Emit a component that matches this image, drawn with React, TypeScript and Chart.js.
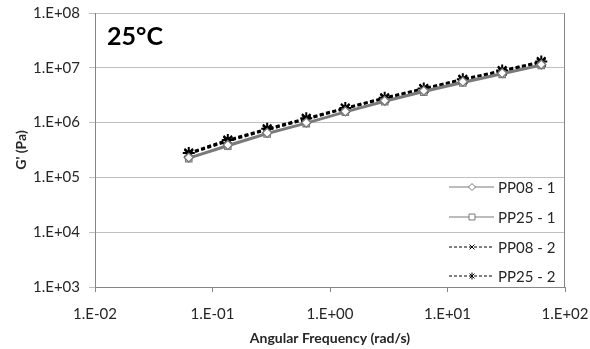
import React, { useEffect, useRef } from 'react';
import { Chart, registerables } from 'chart.js';
Chart.register(...registerables);

const frequency = [0.0628, 0.135, 0.292, 0.628, 1.35, 2.92, 6.28, 13.5, 29.2, 62.8];
const pp08_1 = [2.3e5, 3.9e5, 6.5e5, 1.0e6, 1.6e6, 2.5e6, 3.8e6, 5.6e6, 8.0e6, 1.15e7];
const pp25_1 = [2.2e5, 3.7e5, 6.2e5, 9.6e5, 1.55e6, 2.4e6, 3.6e6, 5.3e6, 7.6e6, 1.1e7];
const pp08_2 = [2.7e5, 4.6e5, 7.4e5, 1.15e6, 1.8e6, 2.75e6, 4.1e6, 6.0e6, 8.6e6, 1.25e7];
const pp25_2 = [2.8e5, 4.8e5, 7.7e5, 1.2e6, 1.85e6, 2.85e6, 4.2e6, 6.2e6, 8.9e6, 1.3e7];
const seriesLabels = ['PP08 - 1', 'PP25 - 1', 'PP08 - 2', 'PP25 - 2'];
const xTickValues = [0.01, 0.1, 1, 10, 100];
const yTickValues = [1e3, 1e4, 1e5, 1e6, 1e7, 1e8];
const panelTitle = '25°C';
const xTitle = 'Angular Frequency (rad/s)';
const yTitle = "G' (Pa)";

const FONT = 'Lato, "Open Sans", sans-serif';
const GRAY = '#7a7a7a';
const GRID = '#bfbfbf';
const AXIS = '#868686';
const TEXT = '#262626';

function fmt(v: number): string {
  const e = Math.round(Math.log10(v));
  return '1.E' + (e < 0 ? '-' : '+') + String(Math.abs(e)).padStart(2, '0');
}

type Style = { color: string; dash: number[]; width: number; marker: string; fill: string; radius: number; pw: number };
const styles: Style[] = [
  { color: GRAY, dash: [], width: 2, marker: 'rectRot', fill: '#ffffff', radius: 4.5, pw: 1.3 },
  { color: GRAY, dash: [], width: 2, marker: 'rect', fill: '#ffffff', radius: 4.5, pw: 1.3 },
  { color: '#000000', dash: [4, 2.5], width: 2.5, marker: 'crossRot', fill: '#000000', radius: 6, pw: 2 },
  { color: '#000000', dash: [4, 2.5], width: 2.5, marker: 'star', fill: '#000000', radius: 6, pw: 2 },
];

function drawMarker(ctx: CanvasRenderingContext2D, kind: string, x: number, y: number, r: number, stroke: string, fill: string) {
  ctx.save();
  ctx.setLineDash([]);
  ctx.strokeStyle = stroke;
  ctx.fillStyle = fill;
  ctx.lineWidth = 1;
  ctx.beginPath();
  if (kind === 'rectRot') {
    ctx.moveTo(x, y - r); ctx.lineTo(x + r, y); ctx.lineTo(x, y + r); ctx.lineTo(x - r, y); ctx.closePath();
    ctx.fill(); ctx.stroke();
  } else if (kind === 'rect') {
    const s = r * 0.85;
    ctx.rect(x - s, y - s, 2 * s, 2 * s);
    ctx.fill(); ctx.stroke();
  } else if (kind === 'crossRot') {
    const s = r * 0.7;
    ctx.moveTo(x - s, y - s); ctx.lineTo(x + s, y + s);
    ctx.moveTo(x + s, y - s); ctx.lineTo(x - s, y + s);
    ctx.stroke();
  } else {
    const s = r * 0.7;
    ctx.moveTo(x - s, y - s); ctx.lineTo(x + s, y + s);
    ctx.moveTo(x + s, y - s); ctx.lineTo(x - s, y + s);
    ctx.moveTo(x, y - r); ctx.lineTo(x, y + r);
    ctx.stroke();
  }
  ctx.restore();
}

const overlayPlugin = {
  id: 'overlay',
  afterDraw(chart: any) {
    const { ctx, chartArea } = chart;
    ctx.save();
    ctx.strokeStyle = AXIS;
    ctx.lineWidth = 1;
    ctx.beginPath();
    ctx.moveTo(Math.round(chartArea.right) - 0.5, chartArea.top);
    ctx.lineTo(Math.round(chartArea.right) - 0.5, chartArea.bottom);
    ctx.stroke();
    ctx.fillStyle = '#000000';
    ctx.font = 'bold 25px ' + FONT;
    ctx.textAlign = 'left';
    ctx.textBaseline = 'alphabetic';
    ctx.fillText(panelTitle, chartArea.left + 12, chartArea.top + 32);
    const rowsY = [187, 217, 247, 276];
    const textX = chartArea.right - 67;
    ctx.font = '15px ' + FONT;
    ctx.textBaseline = 'middle';
    seriesLabels.forEach((label, i) => {
      const st = styles[i];
      const y = rowsY[i];
      ctx.save();
      ctx.strokeStyle = st.color;
      ctx.lineWidth = i < 2 ? 1.2 : 1;
      ctx.setLineDash(i < 2 ? [] : [3, 2]);
      ctx.beginPath();
      ctx.moveTo(textX - 49, y);
      ctx.lineTo(textX - 4, y);
      ctx.stroke();
      ctx.restore();
      drawMarker(ctx, st.marker, textX - 26, y, 3.5, st.color, i < 2 ? '#ffffff' : '#000000');
      ctx.fillStyle = TEXT;
      ctx.fillText(label, textX, y + 1);
    });
    ctx.restore();
  },
};

export default function App() {
  const ref = useRef<HTMLCanvasElement | null>(null);
  useEffect(() => {
    document.body.style.margin = '0';
    const series = [pp08_1, pp25_1, pp08_2, pp25_2];
    const datasets = series.map((vals, i) => {
      const st = styles[i];
      return {
        label: seriesLabels[i],
        data: vals.map((v, j) => ({ x: frequency[j], y: v })),
        borderColor: st.color,
        backgroundColor: st.fill,
        borderWidth: st.width,
        borderDash: st.dash,
        pointStyle: st.marker,
        pointRadius: st.radius,
        pointBorderColor: st.color,
        pointBackgroundColor: st.fill,
        pointBorderWidth: st.pw,
        tension: 0,
        fill: false,
      };
    });
    const chart = new Chart(ref.current as HTMLCanvasElement, {
      type: 'line',
      data: { datasets } as any,
      plugins: [overlayPlugin],
      options: {
        animation: false,
        responsive: false,
        events: [],
        layout: { padding: { top: 13, right: 25, left: 0, bottom: 0 } },
        plugins: { legend: { display: false }, tooltip: { enabled: false } },
        scales: {
          x: {
            type: 'logarithmic',
            min: 0.01,
            max: 100,
            afterBuildTicks: (s: any) => { s.ticks = xTickValues.map((v) => ({ value: v })); },
            afterFit: (s: any) => { s.height = 62; s.paddingLeft = 0; s.paddingRight = 0; },
            ticks: {
              callback: (v: any) => fmt(Number(v)),
              autoSkip: false,
              maxRotation: 0,
              padding: 13,
              color: TEXT,
              font: { family: FONT, size: 15 },
            },
            grid: { drawOnChartArea: false, drawTicks: true, tickLength: 5, color: AXIS },
            border: { color: AXIS },
            title: {
              display: true,
              text: xTitle,
              color: TEXT,
              font: { family: FONT, size: 14, weight: 'bold' },
              padding: { top: 0, bottom: 2 },
            },
          },
          y: {
            type: 'logarithmic',
            min: 1e3,
            max: 1e8,
            afterBuildTicks: (s: any) => { s.ticks = yTickValues.map((v) => ({ value: v })); },
            afterFit: (s: any) => { s.width = 95; s.paddingTop = 0; s.paddingBottom = 0; },
            ticks: {
              callback: (v: any) => fmt(Number(v)),
              autoSkip: false,
              padding: 9,
              color: TEXT,
              font: { family: FONT, size: 15 },
            },
            grid: { color: GRID, tickLength: 6, drawTicks: true },
            border: { color: AXIS },
            title: {
              display: true,
              text: yTitle,
              color: TEXT,
              font: { family: FONT, size: 14, weight: 'bold' },
              padding: { top: 13, bottom: 0 },
            },
          },
        },
      } as any,
    });
    return () => chart.destroy();
  }, []);
  return (
    <div style={{ position: 'fixed', left: 0, top: 0, width: 590, height: 349, background: '#fff' }}>
      <canvas ref={ref} width={590} height={349} />
    </div>
  );
}
